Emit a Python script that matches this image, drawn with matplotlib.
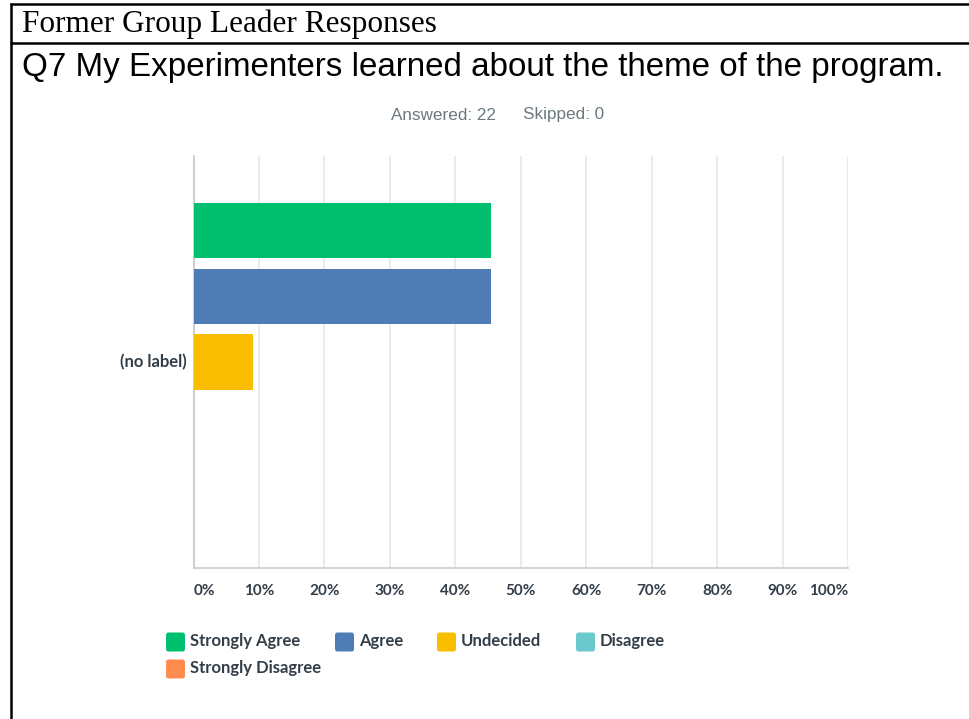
import matplotlib
matplotlib.use("Agg")
import matplotlib.pyplot as plt
from matplotlib.patches import FancyBboxPatch

# Survey results
header = "Former Group Leader Responses"
question = "Q7 My Experimenters learned about the theme of the program."
answered = 22
skipped = 0
row_label = "(no label)"
categories = ["Strongly Agree", "Agree", "Undecided", "Disagree", "Strongly Disagree"]
percents = [45.45, 45.45, 9.09, 0.0, 0.0]
colors = ["#00BF6F", "#507CB6", "#F9BE00", "#6BC8CD", "#FF8B4F"]
tick_values = [0, 10, 20, 30, 40, 50, 60, 70, 80, 90, 100]
tick_labels = ["0%", "10%", "20%", "30%", "40%", "50%", "60%", "70%", "80%", "90%", "100%"]

W, H = 970, 719
TEXT = "#333E48"
UI_FONT = ["Lato", "DejaVu Sans"]

fig = plt.figure(figsize=(W / 100, H / 100), dpi=100)
fig.patch.set_facecolor("white")

# Page overlay in pixel coordinates (frame, headings, legend)
page = fig.add_axes([0, 0, 1, 1])
page.set_xlim(0, W)
page.set_ylim(H, 0)
page.axis("off")

# Table frame
page.plot([10, W], [3.5, 3.5], color="black", lw=1.8, solid_capstyle="butt")
page.plot([10, W], [42.5, 42.5], color="black", lw=1.8, solid_capstyle="butt")
page.plot([11, 11], [3, H], color="black", lw=1.8, solid_capstyle="butt")

page.text(22, 24, header, family="Liberation Serif", fontsize=22.5,
          ha="left", va="center", color="black")
page.text(22, 67.5, question, family="Liberation Sans", fontsize=23.9,
          ha="left", va="center", color="black")
page.text(496, 115, f"Answered: {answered}", family="Liberation Sans", fontsize=12.3,
          ha="right", va="center", color="#6B787F")
page.text(523, 115, f"Skipped: {skipped}", family="Liberation Sans", fontsize=12.3,
          ha="left", va="center", color="#6B787F")

# Bar chart
ax = fig.add_axes([193.5 / W, (H - 568) / H, (848 - 193.5) / W, (568 - 156) / H])
ypos = list(range(len(categories)))
ax.barh(ypos, percents, height=0.845, color=colors, edgecolor="none", zorder=3)
ax.set_xlim(0, 100)
ax.set_ylim(len(categories) - 0.5 + 0.635, -0.5 - 0.635)

ax.set_xticks(tick_values)
ax.set_xticklabels(tick_labels)
ax.tick_params(axis="x", length=0, pad=11.5, labelsize=11, labelcolor=TEXT)
for i, lab in enumerate(ax.get_xticklabels()):
    lab.set_family(UI_FONT)
    lab.set_fontweight("bold")
    if i == 0:
        lab.set_ha("left")
    elif i == len(tick_labels) - 1:
        lab.set_ha("right")
ax.set_yticks([])
ax.grid(axis="x", color="#E8E8E8", lw=1.2, zorder=0)
for side in ("top", "right"):
    ax.spines[side].set_visible(False)
ax.spines["left"].set_color("#C8C8C8")
ax.spines["left"].set_linewidth(1.2)
ax.spines["bottom"].set_color("#CCCCCC")
ax.spines["bottom"].set_linewidth(1.2)
ax.text(-0.01, 0.5, row_label, transform=ax.transAxes, ha="right", va="center",
        family=UI_FONT, fontweight="bold", fontsize=12, color=TEXT)

# Legend
legend_slots = [(165, 642), (334, 642), (436, 642), (575, 642), (165, 669)]
for (x, y), name, col in zip(legend_slots, categories, colors):
    page.add_patch(FancyBboxPatch((x + 1, y - 9.5), 19, 19,
                                  boxstyle="round,pad=0,rounding_size=2.5",
                                  facecolor=col, edgecolor="none"))
    page.text(x + 25, y - 1, name, family=UI_FONT, fontweight="bold",
              fontsize=12, color=TEXT, ha="left", va="center")

fig.savefig("out.png", dpi=100, facecolor="white")
